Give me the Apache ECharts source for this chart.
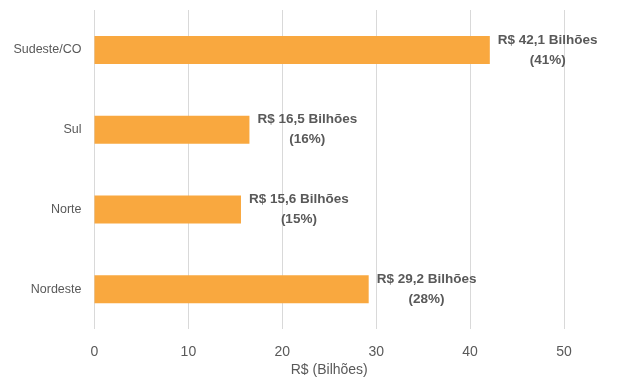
<!DOCTYPE html>
<html>
<head>
<meta charset="utf-8">
<script src="https://cdn.jsdelivr.net/npm/echarts@6/dist/echarts.min.js"></script>
<style>
  html, body { margin: 0; padding: 0; background: #fff; }
  #chart { width: 617px; height: 377px; }
</style>
</head>
<body>
<div id="chart"></div>
<script>
// regiões, de cima para baixo
const regions = ['Sudeste/CO', 'Sul', 'Norte', 'Nordeste'];
const values = [42.1, 16.5, 15.6, 29.2];
const shares = [41, 16, 15, 28];
const xTicks = [0, 10, 20, 30, 40, 50];

const chart = echarts.init(document.getElementById('chart'));

const option = {
  animation: false,
  grid: { left: 94.5, right: 53, top: 10, bottom: 48, outerBoundsMode: 'none' },
  xAxis: {
    type: 'value',
    min: xTicks[0],
    max: xTicks[xTicks.length - 1],
    interval: 10,
    name: 'R$ (Bilhões)',
    nameLocation: 'middle',
    nameGap: 34,
    nameMoveOverlap: false,
    nameTextStyle: { color: '#595959', fontSize: 14, fontFamily: 'Liberation Sans' },
    axisLine: { show: false },
    axisTick: { show: false },
    axisLabel: { color: '#595959', fontSize: 14, margin: 16, fontFamily: 'Liberation Sans' },
    splitLine: { lineStyle: { color: '#d9d9d9', width: 1 } }
  },
  yAxis: {
    type: 'category',
    data: regions,
    inverse: true,
    axisLine: { show: false },
    axisTick: { show: false },
    axisLabel: { color: '#595959', fontSize: 12.5, margin: 13, fontFamily: 'Liberation Sans' }
  },
  series: [{
    type: 'bar',
    data: values,
    barWidth: 28,
    itemStyle: { color: '#f9a83f' },
    label: {
      show: true,
      position: 'right',
      distance: 8,
      formatter: p => '{a|R$ ' + String(p.value).replace('.', ',') + ' Bilhões}\n{a|(' + shares[p.dataIndex] + '%)}',
      rich: {
        a: {
          align: 'center',
          color: '#595959',
          fontSize: 13.5,
          fontWeight: 'bold',
          fontFamily: 'Liberation Sans',
          lineHeight: 20
        }
      }
    }
  }]
};

chart.setOption(option);
</script>
</body>
</html>
